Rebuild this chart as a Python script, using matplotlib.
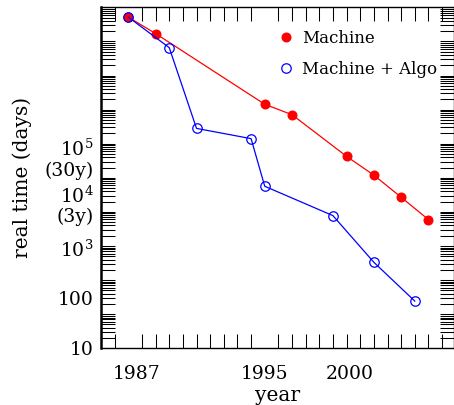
import numpy as np
import matplotlib
matplotlib.use("Agg")
import matplotlib.pyplot as plt
from matplotlib.ticker import FixedLocator, NullFormatter
import matplotlib.transforms as mtransforms

plt.rcParams['font.family'] = ['DejaVu Serif']
plt.rcParams['mathtext.fontset'] = 'dejavuserif'

# ---- data ----
machine_year = [1987.0, 1988.6, 1995.0, 1996.6, 1999.8, 2001.4, 2003.0, 2004.6]
machine_days = [4.2e7, 1.97e7, 7.6e5, 4.7e5, 6.9e4, 2.9e4, 1.05e4, 3.75e3]

algo_year = [1987.0, 1989.4, 1991.0, 1994.2, 1995.0, 1999.0, 2001.4, 2003.8]
algo_days = [4.2e7, 1.03e7, 2.5e5, 1.56e5, 1.74e4, 4.5e3, 525, 88]

x_tick_years = [1987, 1995, 2000]
x_tick_labels = ['1987', '1995', '2000']
y_tick_values = [10, 100, 1e3, 10**3.9, 10**4.83]
y_tick_labels = ['10', '100', '$10^3$', '$10^4$\n(3y)', '$10^5$\n(30y)']

fig = plt.figure(figsize=(4.54, 4.05), dpi=100)
ax = fig.add_axes([100.7/454, 1-348.3/405, (454-100.7)/454, (348.3-7.3)/405])

ax.plot(machine_year, machine_days, color='#ff0000', lw=0.9, marker='o',
        ms=6.2, mfc='#ff0000', mec='#ff0000', label='Machine', zorder=3)
ax.plot(algo_year, algo_days, color='#0000ff', lw=0.9, marker='o',
        ms=6.8, mfc='none', mec='#0000ff', mew=0.9, label='Machine + Algo', zorder=4)

ax.set_yscale('log')
ax.set_ylim(10, 10**7.82)
ax.set_xlim(1985.38, 2006.1)

# major ticks: labels only
ax.xaxis.set_major_locator(FixedLocator(x_tick_years))
ax.set_xticklabels(x_tick_labels)
ax.yaxis.set_major_locator(FixedLocator(y_tick_values))
ax.set_yticklabels(y_tick_labels)

# minor ticks (dense pattern)
xminor = 1987 + 0.8*np.arange(-2, 25)
ax.xaxis.set_minor_locator(FixedLocator(xminor))
pseudo = 0.682
yminor = []
for k in range(0, 11):
    for m in range(1, 10):
        v = 1 + pseudo*(k + np.log10(m))
        if v < 7.82:
            yminor.append(10**v)
ax.yaxis.set_minor_locator(FixedLocator(yminor))
ax.yaxis.set_minor_formatter(NullFormatter())
ax.xaxis.set_minor_formatter(NullFormatter())

ax.tick_params(which='major', length=0, labelsize=13.5, colors='black')
ax.tick_params(axis='y', which='major', pad=5)
ax.tick_params(axis='x', which='major', pad=12)
ax.tick_params(which='minor', direction='in', length=9.8, width=0.75,
               top=True, right=True, bottom=True, left=True)
for lab in ax.get_yticklabels():
    lab.set_linespacing(1.1)

# shift 1987 label slightly right, as in the reference
lbl = ax.get_xticklabels()[0]
lbl.set_transform(lbl.get_transform() +
                  mtransforms.ScaledTranslation(8/100, 0, fig.dpi_scale_trans))

for s in ['top', 'bottom', 'right']:
    ax.spines[s].set_linewidth(1.0)
ax.spines['left'].set_linewidth(1.8)

ax.set_ylabel('real time (days)', fontsize=14.5, labelpad=9)
ax.set_xlabel('year', fontsize=14.5, labelpad=2)

leg = ax.legend(loc='upper left', bbox_to_anchor=(0.501, 0.934), frameon=False,
                fontsize=12, handlelength=1.0, handletextpad=0.46, labelspacing=0.85,
                borderpad=0, borderaxespad=0, numpoints=1)
for h in leg.legend_handles:
    h.set_linestyle('none')

fig.savefig('out.png', dpi=100)
